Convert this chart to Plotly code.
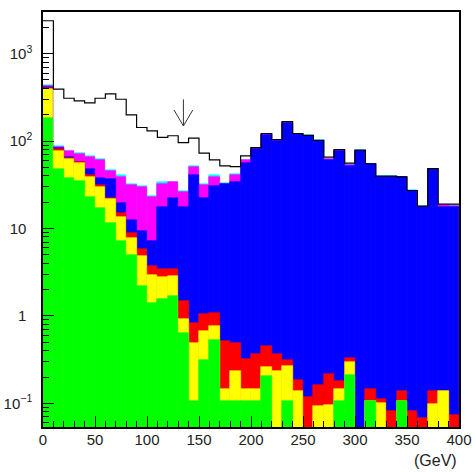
import numpy as np
import plotly.graph_objects as go

# 10 GeV bins from 0 to 400 GeV
bin_edges = np.arange(0, 410, 10)
bin_centers = bin_edges[:-1] + 5

# Per-process contributions, stacked bottom to top
green = [186, 48, 38.3, 34.5, 23.2, 17.1, 11.5, 7.1, 5.0, 2.21,
         1.40, 1.57, 1.70, 0.64, 0.105, 0.316, 0.535, 0.105, 0.105, 0.105,
         0.105, 0.207, 0, 0.105, 0, 0, 0, 0, 0.105, 0.213,
         0, 0.105, 0, 0, 0.105, 0, 0, 0, 0, 0]
yellow = [210, 30, 23.7, 21.3, 16.1, 13.1, 10.1, 6.4, 2.77, 2.66,
          1.50, 1.20, 1.13, 0.29, 0.385, 0.349, 0.235, 0.042, 0.127, 0.042,
          0.042, 0.051, 0.232, 0.165, 0.137, 0, 0.094, 0.096, 0.042, 0.081,
          0, 0, 0.1, 0, 0, 0, 0, 0.098, 0.137, 0]
red = [9, 3.5, 2.7, 1.2, 1.7, 1.3, 1.0, 1.5, 1.08, 0.93,
       0.78, 0.70, 0.63, 0.54, 0.35, 0.395, 0.31, 0.363, 0.258, 0.178,
       0.223, 0.198, 0.138, 0.046, 0.05, 0.118, 0.066, 0.123, 0.033, 0.039,
       0, 0.042, 0.012, 0.081, 0.035, 0.081, 0.068, 0.039, 0, 0.074]
blue = [10, 1.5, 0.8, 0.5, 6.8, 6.8, 14.1, 4.5, 3.75, 3.6,
        3.52, 14.33, 19.14, 16.13, 40.16, 21.54, 29.92, 31.49, 33.11, 56.48,
        80.63, 117.54, 100.63, 161.68, 118.81, 113.88, 99.84, 59.78, 76.82, 52.17,
        76.0, 53.85, 38.39, 38.42, 38.36, 26.42, 17.53, 47.86, 17.66, 17.73]
magenta = [16, 2.5, 10.5, 14.5, 17.7, 22.7, 8.6, 19.8, 18.6, 20.3,
           15.8, 14.6, 11.0, 8.7, 10.0, 8.7, 8.3, 0.5, 7.5, 3.2,
           2.0, 2.0, 2.0, 3.0, 2.0, 1.0, 1.0, 2.3, 2.0, 1.0,
           1.5, 0.5, 0.5, 0.8, 0.3, 0.3, 0.2, 0.3, 0.6, 0.2]
cyan = [12, 2.5, 2.0, 2.0, 2.3, 1.7, 1.6, 1.5, 1.2, 1.1,
        0.8, 1.2, 0.8, 0.7, 1.0, 0.8, 1.1, 0.5, 1.1, 1.0,
        1.0, 2.0, 1.0, 2.0, 1.0, 1.0, 1.0, 0.2, 1.0, 0.9,
        1.0, 0.5, 0.7, 0.4, 0.2, 0.4, 0.2, 0.2, 0.2, 0.6]

# Unfilled reference histogram drawn as a black outline
outline = [2380, 392, 309, 288, 273, 309, 346, 301, 199, 143,
           131, 110, 115, 96, 108, 72.8, 61, 52, 51, 67.8,
           84, 122, 104, 167, 122, 116, 102, 65.5, 80, 55.8,
           78.7, 55, 39.7, 39.7, 39, 27.2, 18, 48.5, 19, 19]

# Cut marker
cut_position = 135
arrow_tip = 149
arrow_tail = 300

# Decade labels; plain ones get an invisible exponent so the bases line up
pad = "<sup><span style='color:rgba(0,0,0,0)'>0</span></sup>"
y_tick_values = [0.1, 1, 10, 100, 1000]
y_tick_labels = ["10<sup>−1</sup>", "1" + pad, "10" + pad, "10<sup>2</sup>", "10<sup>3</sup>"]
x_tick_values = list(range(0, 401, 50))

layers = [green, yellow, red, blue, magenta, cyan]
colors = ["#00ff00", "#ffff00", "#ff0000", "#0000ff", "#ff00ff", "#00ffff"]
cumulative = np.cumsum(np.array(layers, dtype=float), axis=0)

fig = go.Figure()

# Draw cumulative sums from the top layer down so each colour shows its share
for level, color in reversed(list(zip(cumulative, colors))):
    heights = np.where(level > 0, level, np.nan)
    fig.add_trace(go.Bar(
        x=bin_centers, y=heights, width=10,
        marker=dict(color=color, line=dict(color=color, width=0.6)),
        opacity=1, hoverinfo="skip", showlegend=False,
    ))

step_x = np.append(bin_edges[:-1], bin_edges[-1])
step_y = np.append(outline, outline[-1])
fig.add_trace(go.Scatter(
    x=step_x, y=step_y, mode="lines", line=dict(color="black", width=1.2, shape="hv"),
    hoverinfo="skip", showlegend=False,
))

wing_dx = 9
wing_y = arrow_tip * 1.52
fig.add_trace(go.Scatter(
    x=[cut_position, cut_position, None, cut_position - wing_dx, cut_position, cut_position + wing_dx],
    y=[arrow_tail, arrow_tip, None, wing_y, arrow_tip, wing_y],
    mode="lines", line=dict(color="#333333", width=1),
    hoverinfo="skip", showlegend=False,
))

minor_y = [m * 10.0 ** e for e in range(-2, 4) for m in range(2, 10)]
minor_y = [v for v in minor_y if 0.0536 < v < 2990]

fig.update_layout(
    width=476, height=472,
    margin=dict(l=43, r=17, t=12, b=45),
    paper_bgcolor="white", plot_bgcolor="white",
    barmode="overlay", bargap=0, showlegend=False,
    font=dict(family="Liberation Sans, Arial, sans-serif", size=15, color="#222222"),
)

fig.update_xaxes(
    range=[0, 400], tickmode="array", tickvals=x_tick_values,
    ticks="inside", ticklen=11, tickwidth=1, tickcolor="black",
    showline=True, linecolor="black", linewidth=1.5, mirror=True,
    showgrid=False, zeroline=False, ticklabelstandoff=-2, automargin=False,
    minor=dict(dtick=10, tick0=0, ticks="inside", ticklen=6, tickwidth=1,
               tickcolor="black", showgrid=False),
)

fig.update_yaxes(
    type="log", range=[np.log10(0.0536), np.log10(2995)],
    tickmode="array", tickvals=y_tick_values, ticktext=y_tick_labels,
    ticks="inside", ticklen=11, tickwidth=1, tickcolor="black",
    showline=True, linecolor="black", linewidth=1.5, mirror=True,
    showgrid=False, zeroline=False, ticklabelstandoff=6, automargin=False,
    minor=dict(tickmode="array", tickvals=minor_y, ticks="inside", ticklen=6,
               tickwidth=1, tickcolor="black", showgrid=False),
)

fig.add_annotation(
    text="(GeV)", xref="paper", yref="paper", x=1, y=0,
    xanchor="right", yanchor="top", yshift=-23, showarrow=False,
    font=dict(size=16, color="#222222"),
)

fig.write_html("out.html")
